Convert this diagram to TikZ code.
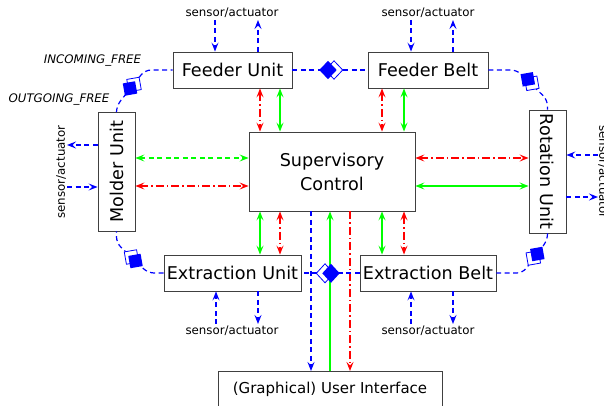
\documentclass[tikz,border=0pt]{standalone}
\usepackage{fontspec}
\setmainfont{DejaVu Sans}
\usetikzlibrary{arrows.meta,calc}
\begin{document}
\begin{tikzpicture}[x=1pt,y=-1pt,
  >={Stealth[length=9pt,width=7pt,inset=3.5pt]},
  box/.style={draw=black!75, line width=0.9pt, fill=white, inner sep=0pt, font=\fontsize{17.6}{24}\selectfont},
  boxtxt/.style={inner sep=0pt, font=\fontsize{17.6}{24}\selectfont},
  lbl/.style={font=\fontsize{11.8}{14}\selectfont, inner sep=0pt},
  itl/.style={font=\fontsize{11.8}{14}\selectfont\itshape, inner sep=0pt},
  bl/.style={blue, line width=1.2pt, dash pattern=on 5pt off 3.5pt},
  rl/.style={red, line width=1.2pt, dash pattern=on 8pt off 3pt on 1.5pt off 3pt},
  gl/.style={green, line width=1.2pt},
  gdl/.style={green, line width=1.2pt, dash pattern=on 5pt off 3.5pt},
  fsq/.style={fill=blue, rotate=10, minimum size=12.5pt, inner sep=0pt},
  osq/.style={draw=blue, fill=white, line width=0.8pt, rotate=10, minimum size=12.5pt, inner sep=0pt},
  odia/.style={draw=blue, fill=white, line width=0.8pt},
]
\useasboundingbox (0,0) rectangle (604,406);

% boxes
\node[box, minimum width=119pt, minimum height=36pt] (fu) at (232.5,70) {Feeder Unit};
\node[box, minimum width=120pt, minimum height=36pt] (fb) at (428,70) {Feeder Belt};
\node[box, minimum width=166pt, minimum height=79pt, align=center] (sc) at (332,171.5) {Supervisory\\Control};
\node[box, minimum width=37pt, minimum height=119pt] (mu) at (116.5,171.5) {};
\node[boxtxt, rotate=90] (mut) at (mu) {Molder Unit};
\node[box, minimum width=37pt, minimum height=123pt] (ru) at (547.5,171.5) {};
\node[boxtxt, rotate=-90] (rut) at (ru) {Rotation Unit};
\node[box, minimum width=137pt, minimum height=36pt] (eu) at (232.5,273) {Extraction Unit};
\node[box, minimum width=136pt, minimum height=36pt] (eb) at (428,273) {Extraction Belt};
\node[box, minimum width=224pt, minimum height=50pt, anchor=north] (ui) at (330,371) {};
\node[inner sep=0pt, font=\fontsize{15}{18}\selectfont] (uit) at (330,389) {(Graphical) User Interface};

% sensor labels
\node[lbl] (s1) at (232,13) {sensor/actuator};
\node[lbl] (s2) at (428,13) {sensor/actuator};
\node[lbl] (s3) at (232,331) {sensor/actuator};
\node[lbl] (s4) at (428,331) {sensor/actuator};
\node[lbl, rotate=90] (s5) at (61,172) {sensor/actuator};
\node[lbl, rotate=-90] (s6) at (603,172) {sensor/actuator};

\node[itl] (inc) at (92.5,61) {INCOMING\_FREE};
\node[itl] (out) at (59,100) {OUTGOING\_FREE};

% guide coordinates
\coordinate (xa) at (260,0);
\coordinate (xb) at (280,0);
\coordinate (xc) at (382,0);
\coordinate (xd) at (404,0);
\coordinate (xe) at (311,0);
\coordinate (xf) at (330,0);
\coordinate (xg) at (350,0);
\coordinate (ya) at (0,158);
\coordinate (yb) at (0,186);

% sensor arrows
\coordinate (fu1) at (215,20);
\coordinate (fu2) at (258,20);
\coordinate (fb1) at (411,20);
\coordinate (fb2) at (453,20);
\coordinate (eu1) at (216,324);
\coordinate (eu2) at (258,324);
\coordinate (eb1) at (411,324);
\coordinate (eb2) at (453,324);
\coordinate (mu1) at (67,145);
\coordinate (mu2) at (67,187);
\coordinate (ru1) at (598,155);
\coordinate (ru2) at (598,197);
\draw[bl,->] (fu1) -- (fu1 |- fu.north);
\draw[bl,->] (fu2 |- fu.north) -- (fu2);
\draw[bl,->] (fb1) -- (fb1 |- fb.north);
\draw[bl,->] (fb2 |- fb.north) -- (fb2);
\draw[bl,->] (eu1) -- (eu1 |- eu.south);
\draw[bl,->] (eu2 |- eu.south) -- (eu2);
\draw[bl,->] (eb1) -- (eb1 |- eb.south);
\draw[bl,->] (eb2 |- eb.south) -- (eb2);
\draw[bl,->] (mu1 -| mu.west) -- (mu1);
\draw[bl,->] (mu2) -- (mu2 -| mu.west);
\draw[bl,->] (ru1) -- (ru1 -| ru.east);
\draw[bl,->] (ru2 -| ru.east) -- (ru2);

% supervisory connections
\draw[rl,<->] (fu.south -| xa) -- (sc.north -| xa);
\draw[gl,<->] (fu.south -| xb) -- (sc.north -| xb);
\draw[rl,<->] (fb.south -| xc) -- (sc.north -| xc);
\draw[gl,<->] (fb.south -| xd) -- (sc.north -| xd);
\draw[gl,<->] (sc.south -| xa) -- (eu.north -| xa);
\draw[rl,<->] (sc.south -| xb) -- (eu.north -| xb);
\draw[gl,<->] (sc.south -| xc) -- (eb.north -| xc);
\draw[rl,<->] (sc.south -| xd) -- (eb.north -| xd);
\draw[gdl,<->] (mu.east |- ya) -- (sc.west |- ya);
\draw[rl,<->] (mu.east |- yb) -- (sc.west |- yb);
\draw[rl,<->] (sc.east |- ya) -- (ru.west |- ya);
\draw[gl,<->] (sc.east |- yb) -- (ru.west |- yb);
\draw[bl,->] (sc.south -| xe) -- (ui.north -| xe);
\draw[gl,->] (ui.north -| xf) -- (sc.south -| xf);
\draw[rl,->] (sc.south -| xg) -- (ui.north -| xg);

% material flow ring
\draw[bl] (fu.east) -- (fb.west);
\draw[bl] (eb.west) -- (eu.east);
\draw[bl, rounded corners=6pt] (mu.north) -- (116.5,106) -- (145,70) -- (fu.west);
\draw[bl, rounded corners=6pt] (fb.east) -- (517,70) -- (547.5,100) -- (ru.north);
\draw[bl, rounded corners=6pt] (ru.south) -- (547.5,240) -- (522.75,273) -- (eb.east);
\draw[bl, rounded corners=6pt] (eu.west) -- (148,273) -- (116.5,243) -- (mu.south);

% diamonds
\draw[odia] (325.3,70) -- (334,60.8) -- (342.7,70) -- (334,79.2) -- cycle;
\fill[blue] (319.3,70) -- (328,60.8) -- (336.7,70) -- (328,79.2) -- cycle;
\draw[odia] (316.3,273.3) -- (325,263.8) -- (333.7,273.3) -- (325,282.8) -- cycle;
\fill[blue] (322.3,273.3) -- (331,263.8) -- (339.7,273.3) -- (331,282.8) -- cycle;

% squares
\node[osq] (q1o) at (134,84.5) {};
\node[fsq] (q1) at (130,88.5) {};
\node[osq] (q2o) at (531.8,83.3) {};
\node[fsq] (q2) at (527.8,79.3) {};
\node[osq] (q3o) at (533.3,258) {};
\node[fsq] (q3) at (537.3,254) {};
\node[osq] (q4o) at (131.5,257) {};
\node[fsq] (q4) at (135.5,261) {};
\end{tikzpicture}
\end{document}
